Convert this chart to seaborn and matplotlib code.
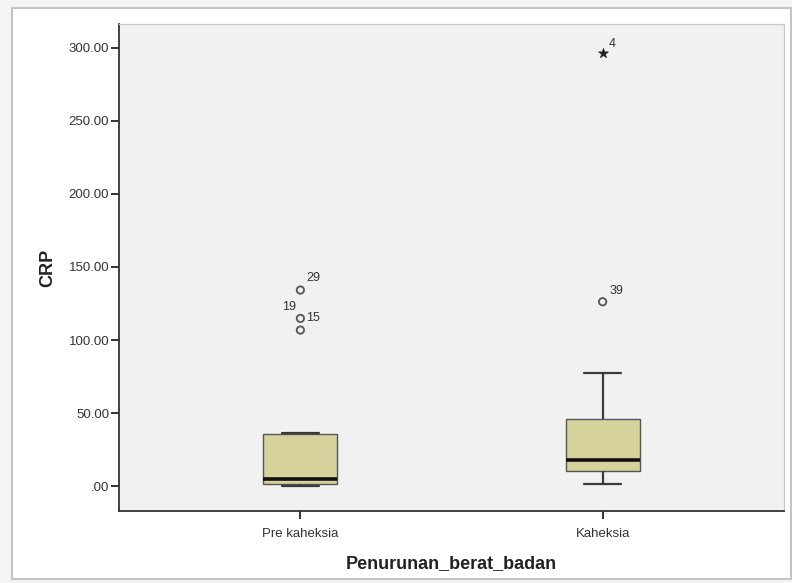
import numpy as np
import pandas as pd
import matplotlib
matplotlib.use("Agg")
import matplotlib.pyplot as plt
import seaborn as sns
from matplotlib.patches import Rectangle

# ---- data ----
categories = ["Pre kaheksia", "Kaheksia"]
pre_values = [0.0, 0.3, 0.6, 0.9, 1.1, 1.4, 1.8, 2.3, 3.0, 3.8, 4.6,
              6.5, 10.2, 18.0, 27.5, 35.8, 35.9, 36.0, 106.8, 114.8, 134.2]
kah_values = [1.1, 2.5, 4.0, 6.0, 8.5, 10.3, 11.5, 13.0, 14.5, 16.5, 18.0,
              21.0, 26.0, 32.0, 39.0, 45.9, 55.0, 66.0, 77.2, 126.2, 296.3]
pre_case_ids = {134.2: "29", 114.8: "19", 106.8: "15"}
kah_case_ids = {126.2: "39", 296.3: "4"}
y_ticks = [0, 50, 100, 150, 200, 250, 300]
y_tick_labels = [".00", "50.00", "100.00", "150.00", "200.00", "250.00", "300.00"]
x_title = "Penurunan_berat_badan"
y_title = "CRP"

df = pd.DataFrame({
    "group": [categories[0]] * len(pre_values) + [categories[1]] * len(kah_values),
    "CRP": pre_values + kah_values,
})

sns.set_theme(style="white")
plt.rcParams["font.family"] = ["Liberation Sans", "DejaVu Sans"]

fig = plt.figure(figsize=(7.92, 5.83), dpi=100, facecolor="#f4f4f4")
# outer white frame
fig.patches.append(Rectangle((12 / 792, 4 / 583), 779 / 792, 571 / 583,
                             transform=fig.transFigure, facecolor="white",
                             edgecolor="#c4c4c4", linewidth=1.5, zorder=-10))

ax = fig.add_axes([119 / 792, 1 - 511 / 583, (784 - 119) / 792, (511 - 24) / 583])
ax.set_facecolor("#f1f1f1")

box_color = "#d6d29c"
line_col = "#3a3a3a"
sns.boxplot(data=df, x="group", y="CRP", order=categories, ax=ax,
            width=0.245, color=box_color, showfliers=False, whis=1.5,
            linecolor=line_col, linewidth=1.2, capwidths=0.122,
            boxprops=dict(edgecolor="#555555", linewidth=1.0),
            medianprops=dict(color="#111111", linewidth=2.6),
            whiskerprops=dict(color=line_col, linewidth=1.6),
            capprops=dict(color=line_col, linewidth=1.6),
            saturation=1)

# outliers (SPSS style: circle for >1.5 IQR, star for >3 IQR)
label_offsets = {"29": (9, 9), "19": (-8, 8), "15": (9, 9), "39": (10, 8), "4": (7, 7)}
for i, (vals, ids) in enumerate([(pre_values, pre_case_ids), (kah_values, kah_case_ids)]):
    arr = np.array(vals)
    q1, q3 = np.percentile(arr, [25, 75])
    iqr = q3 - q1
    mild = arr[(arr > q3 + 1.5 * iqr) & (arr <= q3 + 3 * iqr)]
    extreme = arr[arr > q3 + 3 * iqr]
    if len(mild):
        sns.scatterplot(x=[i] * len(mild), y=mild, ax=ax, marker="o", s=28,
                        facecolor="none", edgecolor="#555555", linewidth=1.3, zorder=5)
    if len(extreme):
        sns.scatterplot(x=[i] * len(extreme), y=extreme, ax=ax, marker="*", s=55,
                        color="#222222", edgecolor="#222222", linewidth=0.5, zorder=5)
    for v in np.concatenate([mild, extreme]):
        lab = ids.get(round(float(v), 1))
        if lab:
            ax.annotate(lab, (i, v), xytext=label_offsets[lab], textcoords="offset points",
                        ha="center", va="center", fontsize=9, color="#333333")

ax.set_xlim(-0.6, 1.6)
ax.set_ylim(-17.1, 316.4)
ax.set_yticks(y_ticks)
ax.set_yticklabels(y_tick_labels)
ax.set_xlabel(x_title, fontsize=13, fontweight="bold", color="#222222", labelpad=11)
ax.set_ylabel(y_title, fontsize=13, fontweight="bold", color="#222222", labelpad=9)
ax.tick_params(axis="both", which="both", direction="out", length=6, width=1.4,
               colors="#333333", labelsize=9.5, left=True, bottom=True)
ax.tick_params(axis="y", pad=1)
ax.tick_params(axis="x", pad=6)

for s in ["left", "bottom"]:
    ax.spines[s].set_color("#333333")
    ax.spines[s].set_linewidth(1.3)
for s in ["top", "right"]:
    ax.spines[s].set_visible(True)
    ax.spines[s].set_color("#c8c8c8")
    ax.spines[s].set_linewidth(0.9)

fig.savefig("out.png", dpi=100, facecolor=fig.get_facecolor())
